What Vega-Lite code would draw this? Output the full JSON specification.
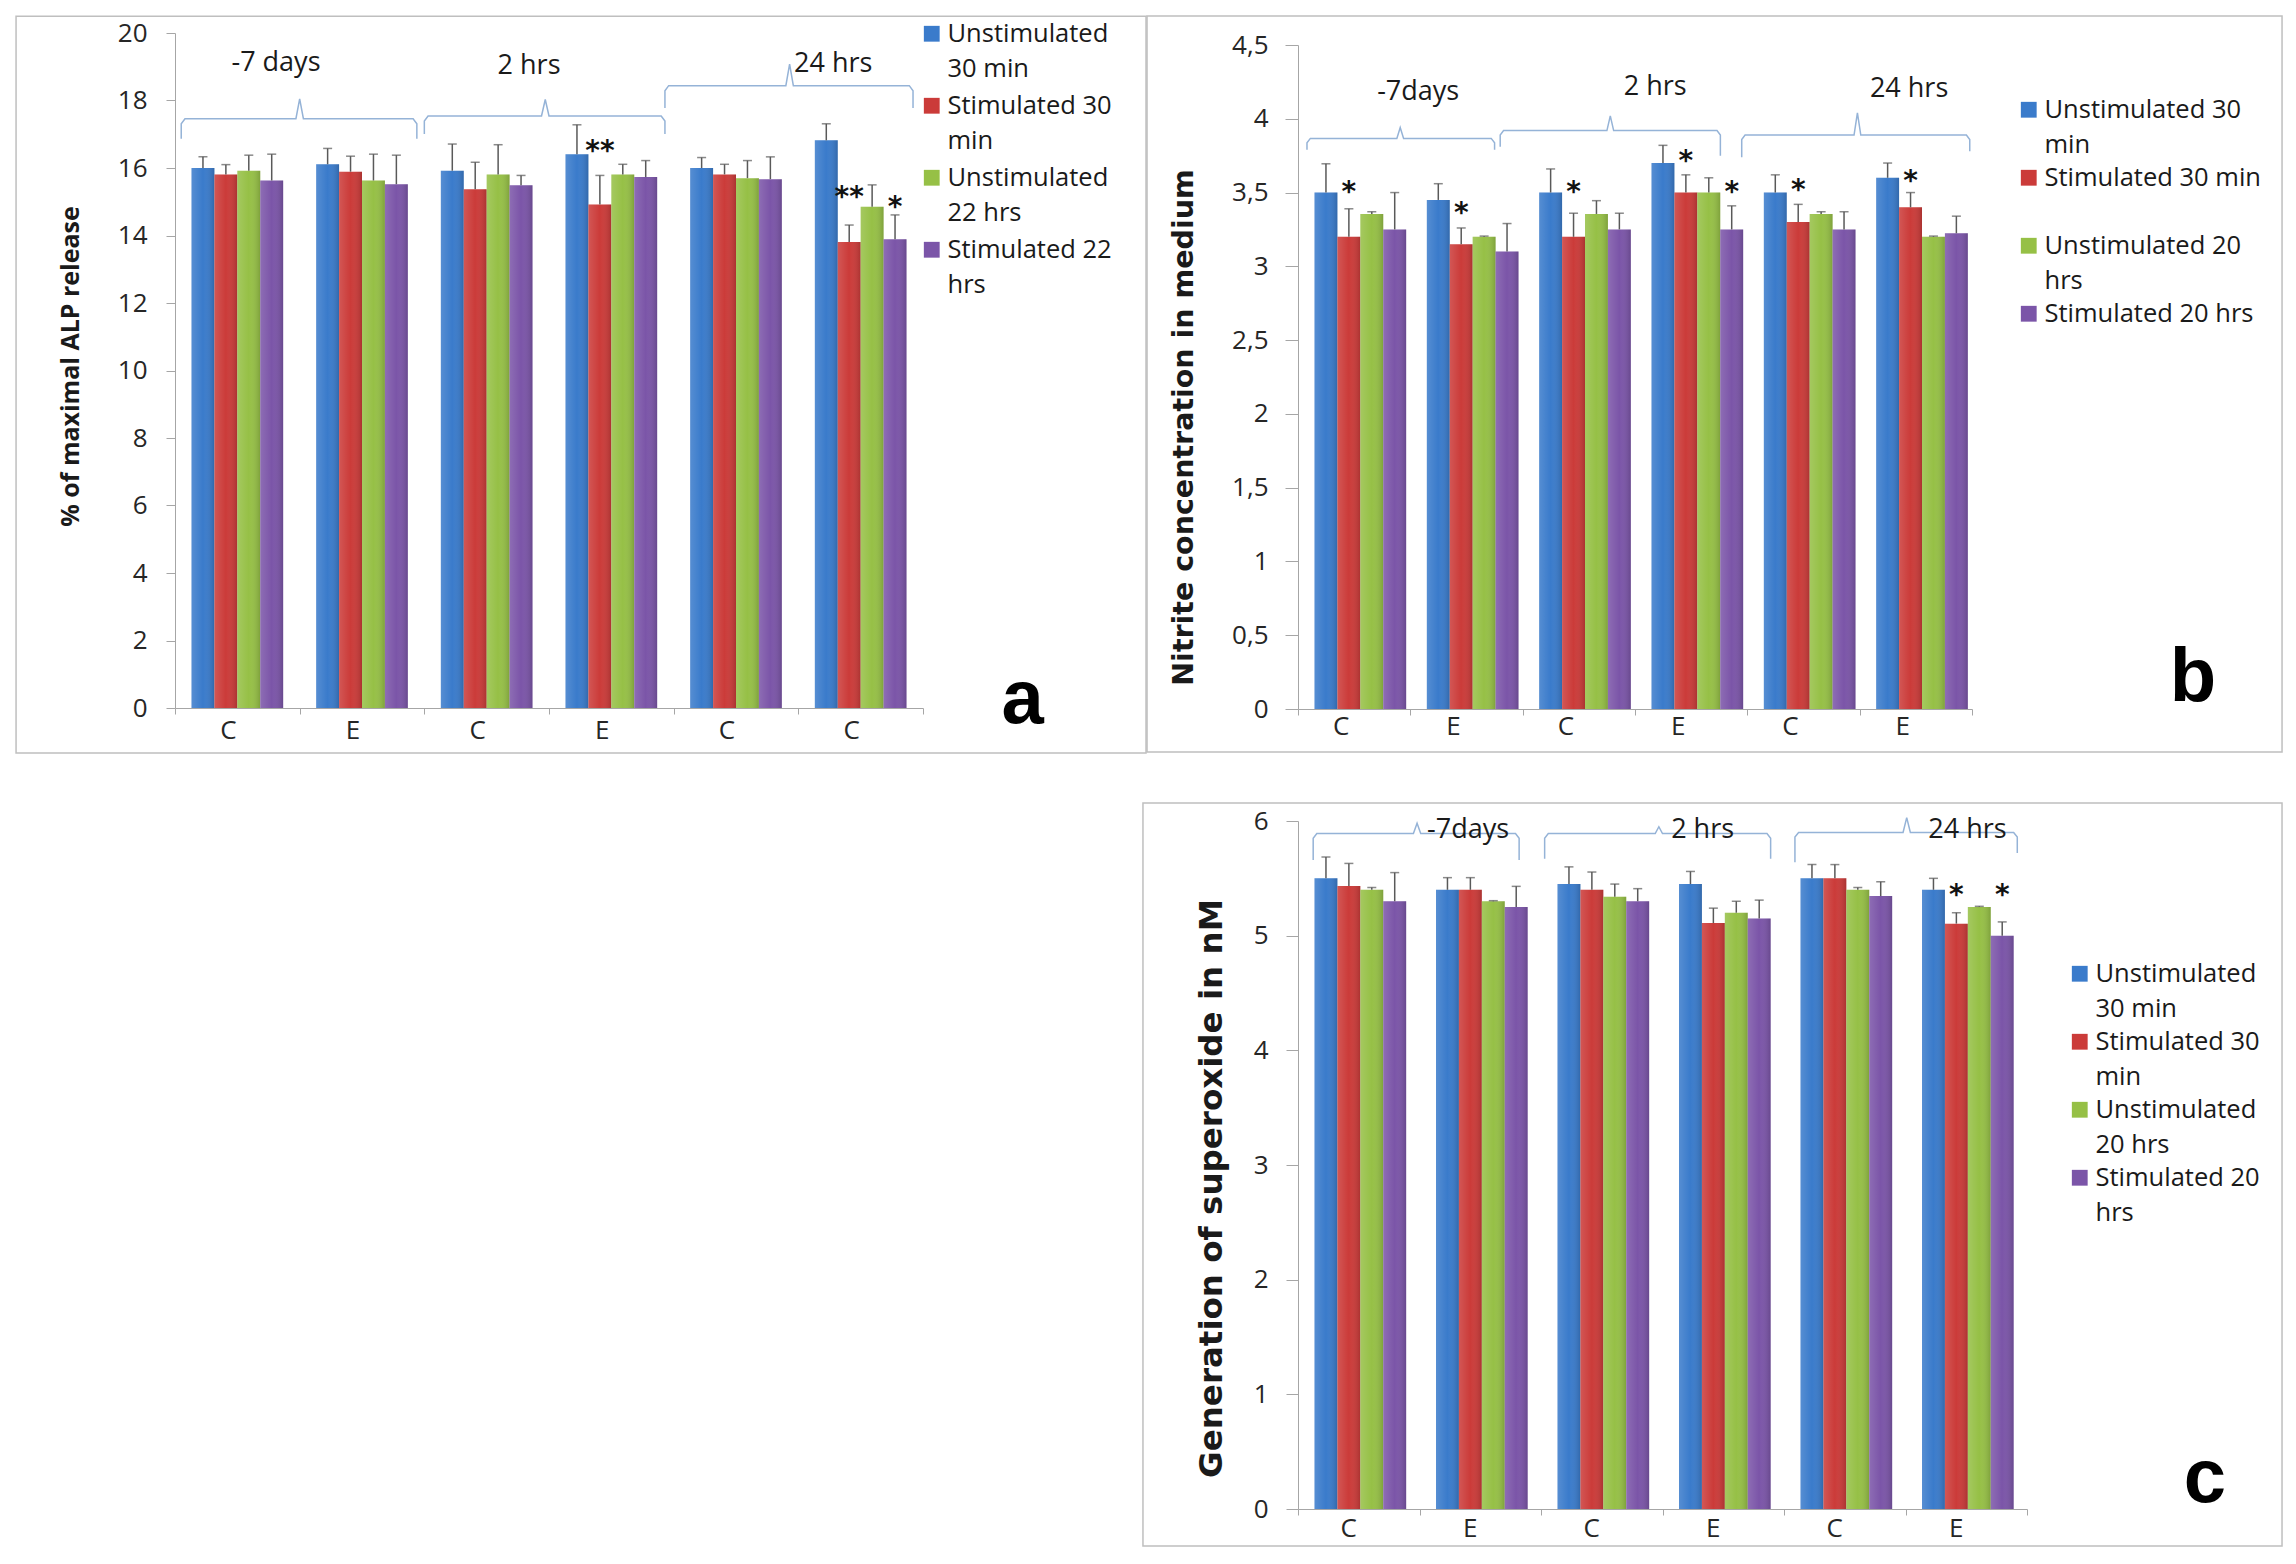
{
  "$schema": "https://vega.github.io/schema/vega-lite/v6.json",
  "background": "white",
  "padding": {"left": 15, "top": 15, "right": 5, "bottom": 5},
  "config": {
    "view": {"stroke": null},
    "font": "Open Sans",
    "axis": {"domainColor": "#A6A6A6", "tickColor": "#A6A6A6", "labelColor": "#262626", "labelFont": "Open Sans", "labelFontSize": 26, "titleColor": "#1a1a1a", "grid": false},
    "style": {"guide-label": {"lineHeight": 35}}
  },
  "datasets": {
    "a": [
      {"g":1,"k":1,"s":"Unstimulated 30 min","v":16.0,"e":16.33},{"g":1,"k":2,"s":"Stimulated 30 min","v":15.81,"e":16.10},{"g":1,"k":3,"s":"Unstimulated 22 hrs","v":15.92,"e":16.38},{"g":1,"k":4,"s":"Stimulated 22 hrs","v":15.63,"e":16.41},
      {"g":2,"k":1,"s":"Unstimulated 30 min","v":16.11,"e":16.58},{"g":2,"k":2,"s":"Stimulated 30 min","v":15.89,"e":16.35},{"g":2,"k":3,"s":"Unstimulated 22 hrs","v":15.63,"e":16.41},{"g":2,"k":4,"s":"Stimulated 22 hrs","v":15.52,"e":16.38},
      {"g":3,"k":1,"s":"Unstimulated 30 min","v":15.92,"e":16.71},{"g":3,"k":2,"s":"Stimulated 30 min","v":15.37,"e":16.17},{"g":3,"k":3,"s":"Unstimulated 22 hrs","v":15.81,"e":16.69},{"g":3,"k":4,"s":"Stimulated 22 hrs","v":15.49,"e":15.78},
      {"g":4,"k":1,"s":"Unstimulated 30 min","v":16.41,"e":17.28},{"g":4,"k":2,"s":"Stimulated 30 min","v":14.92,"e":15.78},{"g":4,"k":3,"s":"Unstimulated 22 hrs","v":15.81,"e":16.11},{"g":4,"k":4,"s":"Stimulated 22 hrs","v":15.73,"e":16.22},
      {"g":5,"k":1,"s":"Unstimulated 30 min","v":16.0,"e":16.31},{"g":5,"k":2,"s":"Stimulated 30 min","v":15.81,"e":16.11},{"g":5,"k":3,"s":"Unstimulated 22 hrs","v":15.70,"e":16.22},{"g":5,"k":4,"s":"Stimulated 22 hrs","v":15.67,"e":16.33},
      {"g":6,"k":1,"s":"Unstimulated 30 min","v":16.82,"e":17.31},{"g":6,"k":2,"s":"Stimulated 30 min","v":13.81,"e":14.31},{"g":6,"k":3,"s":"Unstimulated 22 hrs","v":14.85,"e":15.50},{"g":6,"k":4,"s":"Stimulated 22 hrs","v":13.89,"e":14.61}
    ],
    "aS": [{"g":4,"k":2,"t":"**","y":16.72},{"g":6,"k":2,"t":"**","y":15.34},{"g":6,"k":4,"t":"*","y":15.04}],
    "aB": [
      {"b":1,"o":1,"x":0.05,"y":16.87},{"b":1,"o":2,"x":0.05,"y":17.31},{"b":1,"o":3,"x":0.08,"y":17.46},{"b":1,"o":4,"x":0.97,"y":17.46},{"b":1,"o":5,"x":1.0,"y":18.05},{"b":1,"o":6,"x":1.03,"y":17.46},{"b":1,"o":7,"x":1.91,"y":17.46},{"b":1,"o":8,"x":1.94,"y":17.31},{"b":1,"o":9,"x":1.94,"y":16.87},
      {"b":2,"o":1,"x":2.0,"y":17.01},{"b":2,"o":2,"x":2.0,"y":17.39},{"b":2,"o":3,"x":2.03,"y":17.54},{"b":2,"o":4,"x":2.94,"y":17.54},{"b":2,"o":5,"x":2.97,"y":18.03},{"b":2,"o":6,"x":3.0,"y":17.54},{"b":2,"o":7,"x":3.9,"y":17.54},{"b":2,"o":8,"x":3.93,"y":17.39},{"b":2,"o":9,"x":3.93,"y":17.01},
      {"b":3,"o":1,"x":3.93,"y":17.78},{"b":3,"o":2,"x":3.93,"y":18.29},{"b":3,"o":3,"x":3.96,"y":18.44},{"b":3,"o":4,"x":4.9,"y":18.44},{"b":3,"o":5,"x":4.93,"y":19.08},{"b":3,"o":6,"x":4.96,"y":18.44},{"b":3,"o":7,"x":5.89,"y":18.44},{"b":3,"o":8,"x":5.92,"y":18.29},{"b":3,"o":9,"x":5.92,"y":17.78}
    ],
    "aL": [{"t":"-7 days","x":0.81,"y":19.1},{"t":"2 hrs","x":2.84,"y":19.03},{"t":"24 hrs","x":5.28,"y":19.08}],
    "b": [
      {"g":1,"k":1,"s":"Unstimulated 30 min","v":3.5,"e":3.695},{"g":1,"k":2,"s":"Stimulated 30 min","v":3.2,"e":3.39},{"g":1,"k":3,"s":"Unstimulated 20 hrs","v":3.355,"e":3.37},{"g":1,"k":4,"s":"Stimulated 20 hrs","v":3.25,"e":3.5},
      {"g":2,"k":1,"s":"Unstimulated 30 min","v":3.45,"e":3.56},{"g":2,"k":2,"s":"Stimulated 30 min","v":3.15,"e":3.26},{"g":2,"k":3,"s":"Unstimulated 20 hrs","v":3.2,"e":3.205},{"g":2,"k":4,"s":"Stimulated 20 hrs","v":3.1,"e":3.29},
      {"g":3,"k":1,"s":"Unstimulated 30 min","v":3.5,"e":3.66},{"g":3,"k":2,"s":"Stimulated 30 min","v":3.2,"e":3.36},{"g":3,"k":3,"s":"Unstimulated 20 hrs","v":3.355,"e":3.445},{"g":3,"k":4,"s":"Stimulated 20 hrs","v":3.25,"e":3.36},
      {"g":4,"k":1,"s":"Unstimulated 30 min","v":3.7,"e":3.82},{"g":4,"k":2,"s":"Stimulated 30 min","v":3.5,"e":3.62},{"g":4,"k":3,"s":"Unstimulated 20 hrs","v":3.5,"e":3.6},{"g":4,"k":4,"s":"Stimulated 20 hrs","v":3.25,"e":3.41},
      {"g":5,"k":1,"s":"Unstimulated 30 min","v":3.5,"e":3.62},{"g":5,"k":2,"s":"Stimulated 30 min","v":3.3,"e":3.42},{"g":5,"k":3,"s":"Unstimulated 20 hrs","v":3.355,"e":3.37},{"g":5,"k":4,"s":"Stimulated 20 hrs","v":3.25,"e":3.37},
      {"g":6,"k":1,"s":"Unstimulated 30 min","v":3.6,"e":3.7},{"g":6,"k":2,"s":"Stimulated 30 min","v":3.4,"e":3.5},{"g":6,"k":3,"s":"Unstimulated 20 hrs","v":3.2,"e":3.205},{"g":6,"k":4,"s":"Stimulated 20 hrs","v":3.224,"e":3.34}
    ],
    "bS": [{"g":1,"k":2,"t":"*","y":3.554},{"g":2,"k":2,"t":"*","y":3.41},{"g":3,"k":2,"t":"*","y":3.554},{"g":4,"k":2,"t":"*","y":3.763},{"g":4,"k":4,"t":"*","y":3.554},{"g":5,"k":2,"t":"*","y":3.566},{"g":6,"k":2,"t":"*","y":3.627}],
    "bB": [
      {"b":1,"o":1,"x":0.08,"y":3.79},{"b":1,"o":2,"x":0.08,"y":3.837},{"b":1,"o":3,"x":0.11,"y":3.867},{"b":1,"o":4,"x":0.88,"y":3.867},{"b":1,"o":5,"x":0.91,"y":3.94},{"b":1,"o":6,"x":0.94,"y":3.867},{"b":1,"o":7,"x":1.72,"y":3.867},{"b":1,"o":8,"x":1.75,"y":3.837},{"b":1,"o":9,"x":1.75,"y":3.79},
      {"b":2,"o":1,"x":1.8,"y":3.81},{"b":2,"o":2,"x":1.8,"y":3.89},{"b":2,"o":3,"x":1.83,"y":3.92},{"b":2,"o":4,"x":2.75,"y":3.92},{"b":2,"o":5,"x":2.78,"y":4.02},{"b":2,"o":6,"x":2.81,"y":3.92},{"b":2,"o":7,"x":3.73,"y":3.92},{"b":2,"o":8,"x":3.76,"y":3.89},{"b":2,"o":9,"x":3.76,"y":3.75},
      {"b":3,"o":1,"x":3.95,"y":3.74},{"b":3,"o":2,"x":3.95,"y":3.86},{"b":3,"o":3,"x":3.98,"y":3.89},{"b":3,"o":4,"x":4.95,"y":3.89},{"b":3,"o":5,"x":4.98,"y":4.04},{"b":3,"o":6,"x":5.01,"y":3.89},{"b":3,"o":7,"x":5.95,"y":3.89},{"b":3,"o":8,"x":5.98,"y":3.86},{"b":3,"o":9,"x":5.98,"y":3.78}
    ],
    "bL": [{"t":"-7days","x":1.07,"y":4.18},{"t":"2 hrs","x":3.18,"y":4.215},{"t":"24 hrs","x":5.44,"y":4.2}],
    "c": [
      {"g":1,"k":1,"s":"Unstimulated 30 min","v":5.5,"e":5.686},{"g":1,"k":2,"s":"Stimulated 30 min","v":5.433,"e":5.63},{"g":1,"k":3,"s":"Unstimulated 20 hrs","v":5.4,"e":5.42},{"g":1,"k":4,"s":"Stimulated 20 hrs","v":5.3,"e":5.55},
      {"g":2,"k":1,"s":"Unstimulated 30 min","v":5.4,"e":5.506},{"g":2,"k":2,"s":"Stimulated 30 min","v":5.4,"e":5.506},{"g":2,"k":3,"s":"Unstimulated 20 hrs","v":5.3,"e":5.305},{"g":2,"k":4,"s":"Stimulated 20 hrs","v":5.25,"e":5.43},
      {"g":3,"k":1,"s":"Unstimulated 30 min","v":5.45,"e":5.6},{"g":3,"k":2,"s":"Stimulated 30 min","v":5.4,"e":5.555},{"g":3,"k":3,"s":"Unstimulated 20 hrs","v":5.34,"e":5.45},{"g":3,"k":4,"s":"Stimulated 20 hrs","v":5.3,"e":5.41},
      {"g":4,"k":1,"s":"Unstimulated 30 min","v":5.45,"e":5.56},{"g":4,"k":2,"s":"Stimulated 30 min","v":5.11,"e":5.24},{"g":4,"k":3,"s":"Unstimulated 20 hrs","v":5.2,"e":5.3},{"g":4,"k":4,"s":"Stimulated 20 hrs","v":5.15,"e":5.31},
      {"g":5,"k":1,"s":"Unstimulated 30 min","v":5.5,"e":5.62},{"g":5,"k":2,"s":"Stimulated 30 min","v":5.5,"e":5.62},{"g":5,"k":3,"s":"Unstimulated 20 hrs","v":5.4,"e":5.42},{"g":5,"k":4,"s":"Stimulated 20 hrs","v":5.345,"e":5.47},
      {"g":6,"k":1,"s":"Unstimulated 30 min","v":5.4,"e":5.5},{"g":6,"k":2,"s":"Stimulated 30 min","v":5.105,"e":5.2},{"g":6,"k":3,"s":"Unstimulated 20 hrs","v":5.25,"e":5.256},{"g":6,"k":4,"s":"Stimulated 20 hrs","v":5.0,"e":5.12}
    ],
    "cS": [{"g":6,"k":2,"t":"*","y":5.413},{"g":6,"k":4,"t":"*","y":5.413}],
    "cB": [
      {"b":1,"o":1,"x":0.125,"y":5.66},{"b":1,"o":2,"x":0.125,"y":5.85},{"b":1,"o":3,"x":0.155,"y":5.89},{"b":1,"o":4,"x":0.95,"y":5.89},{"b":1,"o":5,"x":0.98,"y":5.98},{"b":1,"o":6,"x":1.01,"y":5.89},{"b":1,"o":7,"x":1.79,"y":5.89},{"b":1,"o":8,"x":1.82,"y":5.85},{"b":1,"o":9,"x":1.82,"y":5.66},
      {"b":2,"o":1,"x":2.03,"y":5.67},{"b":2,"o":2,"x":2.03,"y":5.85},{"b":2,"o":3,"x":2.06,"y":5.89},{"b":2,"o":4,"x":2.94,"y":5.89},{"b":2,"o":5,"x":2.97,"y":5.95},{"b":2,"o":6,"x":3.0,"y":5.89},{"b":2,"o":7,"x":3.86,"y":5.89},{"b":2,"o":8,"x":3.89,"y":5.85},{"b":2,"o":9,"x":3.89,"y":5.67},
      {"b":3,"o":1,"x":4.09,"y":5.64},{"b":3,"o":2,"x":4.09,"y":5.86},{"b":3,"o":3,"x":4.12,"y":5.9},{"b":3,"o":4,"x":4.98,"y":5.9},{"b":3,"o":5,"x":5.01,"y":6.03},{"b":3,"o":6,"x":5.04,"y":5.9},{"b":3,"o":7,"x":5.89,"y":5.9},{"b":3,"o":8,"x":5.92,"y":5.86},{"b":3,"o":9,"x":5.92,"y":5.72}
    ],
    "cL": [{"t":"-7days","x":1.4,"y":5.92},{"t":"2 hrs","x":3.33,"y":5.92},{"t":"24 hrs","x":5.51,"y":5.92}]
  },
  "columns": 2,
  "align": "each",
  "bounds": "flush",
  "spacing": {"row": 112, "column": 375},
  "resolve": {"scale": {"color": "independent", "x": "independent", "y": "independent"}, "legend": {"color": "independent"}},
  "concat": [
    {
      "width": 748, "height": 675,
      "resolve": {"scale": {"x": "independent"}},
      "layer": [
        {
          "encoding": {
            "x": {"field": "g", "type": "nominal", "scale": {"domain": [1,2,3,4,5,6], "paddingInner": 0, "paddingOuter": 0}, "axis": {"title": null, "ticks": false, "labelAngle": 0, "labelPadding": 9, "labelOffset": -9, "labelExpr": "['C','E','C','E','C','C'][datum.value - 1]"}},
            "xOffset": {"field": "k", "type": "nominal", "scale": {"domain": [1,2,3,4], "paddingInner": 0, "paddingOuter": 0.72}}
          },
          "layer": [
            {"data": {"name": "a"}, "mark": {"type": "bar"}, "encoding": {
              "y": {"field": "v", "type": "quantitative", "scale": {"domain": [0,20], "nice": false}, "axis": {"title": "% of maximal ALP release", "titleFont": "Open Sans", "titleFontWeight": "bold", "titleFontSize": 25, "titlePadding": 34, "titleY": 333, "values": [0,2,4,6,8,10,12,14,16,18,20], "tickSize": 9, "labelPadding": 19}},
              "color": {"field": "s", "type": "nominal", "scale": {"domain": ["Unstimulated 30 min","Stimulated 30 min","Unstimulated 22 hrs","Stimulated 22 hrs"], "range": ["#3A7BCB","#CB3B39","#96C046","#7B55A8"]},
                "legend": {"orient": "none", "legendX": 744, "legendY": -12, "title": null, "symbolType": "square", "symbolSize": 250, "symbolStrokeWidth": 0, "labelFont": "Open Sans", "labelFontSize": 25.5, "labelColor": "#1a1a1a", "labelLimit": 500, "labelOffset": 3, "rowPadding": 10, "padding": 0, "gridAlign": "all",
                  "labelExpr": "datum.label == 'Unstimulated 30 min' ? ['Unstimulated', '30 min'] : datum.label == 'Stimulated 30 min' ? ['Stimulated 30', 'min'] : datum.label == 'Unstimulated 22 hrs' ? ['Unstimulated', '22 hrs'] : ['Stimulated 22', 'hrs']"}}
            }},
            {"data": {"name": "a"}, "mark": {"type": "bar", "color": {"gradient": "linear", "x1": 0, "y1": 0, "x2": 1, "y2": 0, "stops": [{"offset": 0, "color": "rgba(255,255,255,0.14)"}, {"offset": 0.5, "color": "rgba(255,255,255,0)"}, {"offset": 1, "color": "rgba(0,0,0,0.16)"}]}}, "encoding": {
              "y": {"field": "v", "type": "quantitative", "scale": {"domain": [0,20], "nice": false}}
            }},
            {"data": {"name": "a"}, "mark": {"type": "rule", "color": "#595959", "strokeWidth": 1.5}, "encoding": {
              "y": {"field": "v", "type": "quantitative", "scale": {"domain": [0,20], "nice": false}}, "y2": {"field": "e"}
            }},
            {"data": {"name": "a"}, "mark": {"type": "tick", "color": "#595959", "thickness": 1.5, "size": 9}, "encoding": {
              "y": {"field": "e", "type": "quantitative", "scale": {"domain": [0,20], "nice": false}}
            }},
            {"data": {"name": "aS"}, "mark": {"type": "text", "font": "DejaVu Sans", "fontSize": 28, "fontWeight": "bold", "baseline": "alphabetic", "dy": 16, "color": "#111"}, "encoding": {
              "y": {"field": "y", "type": "quantitative", "scale": {"domain": [0,20], "nice": false}}, "text": {"field": "t"}
            }}
          ]
        },
        {
          "layer": [
            {"data": {"values": [{}]}, "mark": {"type": "rect", "fillOpacity": 0, "stroke": "#BFBFBF", "strokeWidth": 1.5}, "encoding": {
              "x": {"datum": -1.275, "type": "quantitative", "scale": {"domain": [0,6], "nice": false, "zero": false}, "axis": {"values": [0,1,2,3,4,5,6], "labels": false, "domain": false, "ticks": true, "tickSize": 6, "grid": false, "title": null, "orient": "bottom"}},
              "x2": {"datum": 7.789},
              "y": {"datum": 20.5, "type": "quantitative", "scale": {"domain": [0,20], "nice": false}},
              "y2": {"datum": -1.333}
            }},
            {"data": {"name": "aB"}, "mark": {"type": "line", "color": "#95B3D7", "strokeWidth": 1.5}, "encoding": {
              "x": {"field": "x", "type": "quantitative", "scale": {"domain": [0,6], "nice": false, "zero": false}},
              "y": {"field": "y", "type": "quantitative", "scale": {"domain": [0,20], "nice": false}},
              "detail": {"field": "b"}, "order": {"field": "o"}
            }},
            {"data": {"name": "aL"}, "mark": {"type": "text", "font": "Open Sans", "fontSize": 27, "color": "#1a1a1a"}, "encoding": {
              "x": {"field": "x", "type": "quantitative", "scale": {"domain": [0,6], "nice": false, "zero": false}},
              "y": {"field": "y", "type": "quantitative", "scale": {"domain": [0,20], "nice": false}},
              "text": {"field": "t"}
            }},
            {"data": {"values": [{"t": "a"}]}, "mark": {"type": "text", "font": "Liberation Sans", "fontWeight": "bold", "fontSize": 76, "baseline": "alphabetic", "color": "#000"}, "encoding": {
              "x": {"datum": 6.8, "type": "quantitative", "scale": {"domain": [0,6], "nice": false, "zero": false}},
              "y": {"datum": -0.44, "type": "quantitative", "scale": {"domain": [0,20], "nice": false}},
              "text": {"field": "t"}
            }}
          ]
        }
      ]
    },
    {
      "width": 674, "height": 676,
      "resolve": {"scale": {"x": "independent"}},
      "layer": [
        {
          "encoding": {
            "x": {"field": "g", "type": "nominal", "scale": {"domain": [1,2,3,4,5,6], "paddingInner": 0, "paddingOuter": 0}, "axis": {"title": null, "ticks": false, "labelAngle": 0, "labelPadding": 4, "labelOffset": -13, "labelExpr": "['C','E','C','E','C','E'][datum.value - 1]"}},
            "xOffset": {"field": "k", "type": "nominal", "scale": {"domain": [1,2,3,4], "paddingInner": 0, "paddingOuter": 0.72}}
          },
          "layer": [
            {"data": {"name": "b"}, "mark": {"type": "bar"}, "encoding": {
              "y": {"field": "v", "type": "quantitative", "scale": {"domain": [0,4.5], "range": [676, 12], "nice": false}, "axis": {"title": "Nitrite concentration in medium", "titleFont": "DejaVu Sans", "titleFontWeight": "bold", "titleFontSize": 28.5, "titlePadding": 33, "titleY": 394, "values": [0,0.5,1,1.5,2,2.5,3,3.5,4,4.5], "labelExpr": "replace(format(datum.value, '.1~f'), '.', ',')", "tickSize": 13, "labelPadding": 17}},
              "color": {"field": "s", "type": "nominal", "scale": {"domain": ["Unstimulated 30 min","Stimulated 30 min","Unstimulated 20 hrs","Stimulated 20 hrs"], "range": ["#3A7BCB","#CB3B39","#96C046","#7B55A8"]},
                "legend": {"orient": "none", "legendX": 718, "legendY": 64, "title": null, "symbolType": "square", "symbolSize": 250, "symbolStrokeWidth": 0, "labelFont": "Open Sans", "labelFontSize": 25.5, "labelColor": "#1a1a1a", "labelLimit": 500, "labelOffset": 3, "rowPadding": 6, "padding": 0, "gridAlign": "all",
                  "labelExpr": "datum.label == 'Unstimulated 30 min' ? ['Unstimulated 30', 'min'] : datum.label == 'Unstimulated 20 hrs' ? ['Unstimulated 20', 'hrs'] : datum.label"}}
            }},
            {"data": {"name": "b"}, "mark": {"type": "bar", "color": {"gradient": "linear", "x1": 0, "y1": 0, "x2": 1, "y2": 0, "stops": [{"offset": 0, "color": "rgba(255,255,255,0.14)"}, {"offset": 0.5, "color": "rgba(255,255,255,0)"}, {"offset": 1, "color": "rgba(0,0,0,0.16)"}]}}, "encoding": {
              "y": {"field": "v", "type": "quantitative", "scale": {"domain": [0,4.5], "range": [676, 12], "nice": false}}
            }},
            {"data": {"name": "b"}, "mark": {"type": "rule", "color": "#595959", "strokeWidth": 1.5}, "encoding": {
              "y": {"field": "v", "type": "quantitative", "scale": {"domain": [0,4.5], "range": [676, 12], "nice": false}}, "y2": {"field": "e"}
            }},
            {"data": {"name": "b"}, "mark": {"type": "tick", "color": "#595959", "thickness": 1.5, "size": 9}, "encoding": {
              "y": {"field": "e", "type": "quantitative", "scale": {"domain": [0,4.5], "range": [676, 12], "nice": false}}
            }},
            {"data": {"name": "bS"}, "mark": {"type": "text", "font": "DejaVu Sans", "fontSize": 28, "fontWeight": "bold", "baseline": "alphabetic", "dy": 16, "color": "#111"}, "encoding": {
              "y": {"field": "y", "type": "quantitative", "scale": {"domain": [0,4.5], "range": [676, 12], "nice": false}}, "text": {"field": "t"}
            }}
          ]
        },
        {
          "layer": [
            {"data": {"values": [{}]}, "mark": {"type": "rect", "fillOpacity": 0, "stroke": "#BFBFBF", "strokeWidth": 1.5}, "encoding": {
              "x": {"datum": -1.344, "type": "quantitative", "scale": {"domain": [0,6], "nice": false, "zero": false}, "axis": {"values": [0,1,2,3,4,5,6], "labels": false, "domain": false, "ticks": true, "tickSize": 6, "grid": false, "title": null, "orient": "bottom"}},
              "x2": {"datum": 8.76},
              "y": {"datum": 4.696, "type": "quantitative", "scale": {"domain": [0,4.5], "range": [676, 12], "nice": false}},
              "y2": {"datum": -0.291}
            }},
            {"data": {"name": "bB"}, "mark": {"type": "line", "color": "#95B3D7", "strokeWidth": 1.5}, "encoding": {
              "x": {"field": "x", "type": "quantitative", "scale": {"domain": [0,6], "nice": false, "zero": false}},
              "y": {"field": "y", "type": "quantitative", "scale": {"domain": [0,4.5], "range": [676, 12], "nice": false}},
              "detail": {"field": "b"}, "order": {"field": "o"}
            }},
            {"data": {"name": "bL"}, "mark": {"type": "text", "font": "Open Sans", "fontSize": 27, "color": "#1a1a1a"}, "encoding": {
              "x": {"field": "x", "type": "quantitative", "scale": {"domain": [0,6], "nice": false, "zero": false}},
              "y": {"field": "y", "type": "quantitative", "scale": {"domain": [0,4.5], "range": [676, 12], "nice": false}},
              "text": {"field": "t"}
            }},
            {"data": {"values": [{"t": "b"}]}, "mark": {"type": "text", "font": "Liberation Sans", "fontWeight": "bold", "fontSize": 76, "baseline": "alphabetic", "color": "#000"}, "encoding": {
              "x": {"datum": 7.968, "type": "quantitative", "scale": {"domain": [0,6], "nice": false, "zero": false}},
              "y": {"datum": 0.054, "type": "quantitative", "scale": {"domain": [0,4.5], "range": [676, 12], "nice": false}},
              "text": {"field": "t"}
            }}
          ]
        }
      ]
    },
    {"width": 10, "height": 10, "data": {"values": [{}]}, "mark": {"type": "point", "opacity": 0}, "encoding": {}},
    {
      "width": 729, "height": 688,
      "resolve": {"scale": {"x": "independent"}},
      "layer": [
        {
          "encoding": {
            "x": {"field": "g", "type": "nominal", "scale": {"domain": [1,2,3,4,5,6], "paddingInner": 0, "paddingOuter": 0}, "axis": {"title": null, "ticks": false, "labelAngle": 0, "labelPadding": 6, "labelOffset": -10, "labelExpr": "['C','E','C','E','C','E'][datum.value - 1]"}},
            "xOffset": {"field": "k", "type": "nominal", "scale": {"domain": [1,2,3,4], "paddingInner": 0, "paddingOuter": 0.72}}
          },
          "layer": [
            {"data": {"name": "c"}, "mark": {"type": "bar"}, "encoding": {
              "y": {"field": "v", "type": "quantitative", "scale": {"domain": [0,6], "nice": false}, "axis": {"title": "Generation of superoxide in nM", "titleFont": "DejaVu Sans", "titleFontWeight": "bold", "titleFontSize": 32.5, "titlePadding": 25, "titleY": 367, "values": [0,1,2,3,4,5,6], "format": "d", "tickSize": 12, "labelPadding": 18}},
              "color": {"field": "s", "type": "nominal", "scale": {"domain": ["Unstimulated 30 min","Stimulated 30 min","Unstimulated 20 hrs","Stimulated 20 hrs"], "range": ["#3A7BCB","#CB3B39","#96C046","#7B55A8"]},
                "legend": {"orient": "none", "legendX": 769, "legendY": 140, "title": null, "symbolType": "square", "symbolSize": 250, "symbolStrokeWidth": 0, "labelFont": "Open Sans", "labelFontSize": 25.5, "labelColor": "#1a1a1a", "labelLimit": 500, "labelOffset": 3, "rowPadding": 6, "padding": 0, "gridAlign": "all",
                  "labelExpr": "datum.label == 'Unstimulated 30 min' ? ['Unstimulated', '30 min'] : datum.label == 'Stimulated 30 min' ? ['Stimulated 30', 'min'] : datum.label == 'Unstimulated 20 hrs' ? ['Unstimulated', '20 hrs'] : ['Stimulated 20', 'hrs']"}}
            }},
            {"data": {"name": "c"}, "mark": {"type": "bar", "color": {"gradient": "linear", "x1": 0, "y1": 0, "x2": 1, "y2": 0, "stops": [{"offset": 0, "color": "rgba(255,255,255,0.14)"}, {"offset": 0.5, "color": "rgba(255,255,255,0)"}, {"offset": 1, "color": "rgba(0,0,0,0.16)"}]}}, "encoding": {
              "y": {"field": "v", "type": "quantitative", "scale": {"domain": [0,6], "nice": false}}
            }},
            {"data": {"name": "c"}, "mark": {"type": "rule", "color": "#595959", "strokeWidth": 1.5}, "encoding": {
              "y": {"field": "v", "type": "quantitative", "scale": {"domain": [0,6], "nice": false}}, "y2": {"field": "e"}
            }},
            {"data": {"name": "c"}, "mark": {"type": "tick", "color": "#595959", "thickness": 1.5, "size": 9}, "encoding": {
              "y": {"field": "e", "type": "quantitative", "scale": {"domain": [0,6], "nice": false}}
            }},
            {"data": {"name": "cS"}, "mark": {"type": "text", "font": "DejaVu Sans", "fontSize": 28, "fontWeight": "bold", "baseline": "alphabetic", "dy": 16, "color": "#111"}, "encoding": {
              "y": {"field": "y", "type": "quantitative", "scale": {"domain": [0,6], "nice": false}}, "text": {"field": "t"}
            }}
          ]
        },
        {
          "layer": [
            {"data": {"values": [{}]}, "mark": {"type": "rect", "fillOpacity": 0, "stroke": "#BFBFBF", "strokeWidth": 1.5}, "encoding": {
              "x": {"datum": -1.276, "type": "quantitative", "scale": {"domain": [0,6], "nice": false, "zero": false}, "axis": {"values": [0,1,2,3,4,5,6], "labels": false, "domain": false, "ticks": true, "tickSize": 6, "grid": false, "title": null, "orient": "bottom"}},
              "x2": {"datum": 8.099},
              "y": {"datum": 6.157, "type": "quantitative", "scale": {"domain": [0,6], "nice": false}},
              "y2": {"datum": -0.323}
            }},
            {"data": {"name": "cB"}, "mark": {"type": "line", "color": "#95B3D7", "strokeWidth": 1.5}, "encoding": {
              "x": {"field": "x", "type": "quantitative", "scale": {"domain": [0,6], "nice": false, "zero": false}},
              "y": {"field": "y", "type": "quantitative", "scale": {"domain": [0,6], "nice": false}},
              "detail": {"field": "b"}, "order": {"field": "o"}
            }},
            {"data": {"name": "cL"}, "mark": {"type": "text", "font": "Open Sans", "fontSize": 27, "color": "#1a1a1a"}, "encoding": {
              "x": {"field": "x", "type": "quantitative", "scale": {"domain": [0,6], "nice": false, "zero": false}},
              "y": {"field": "y", "type": "quantitative", "scale": {"domain": [0,6], "nice": false}},
              "text": {"field": "t"}
            }},
            {"data": {"values": [{"t": "c"}]}, "mark": {"type": "text", "font": "Liberation Sans", "fontWeight": "bold", "fontSize": 76, "baseline": "alphabetic", "color": "#000"}, "encoding": {
              "x": {"datum": 7.465, "type": "quantitative", "scale": {"domain": [0,6], "nice": false, "zero": false}},
              "y": {"datum": 0.06, "type": "quantitative", "scale": {"domain": [0,6], "nice": false}},
              "text": {"field": "t"}
            }}
          ]
        }
      ]
    }
  ]
}
